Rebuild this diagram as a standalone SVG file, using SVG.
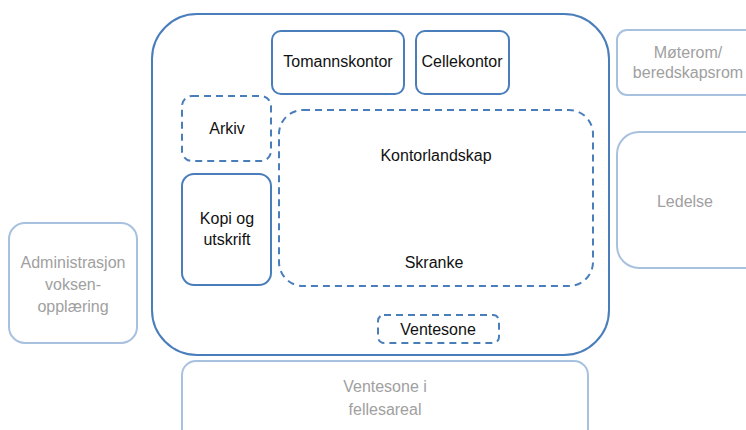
<svg xmlns="http://www.w3.org/2000/svg" width="746" height="430" viewBox="0 0 746 430">
<style>
.main{fill:#fff;stroke:#4a7ebb;stroke-width:2}
.dash{fill:none;stroke:#4a7ebb;stroke-width:2;stroke-dasharray:7,5}
.ext{fill:#fff;stroke:#a8c1df;stroke-width:2}
.t{font-family:"Liberation Sans",Arial,sans-serif;font-size:16px;fill:#111;text-anchor:middle}
.g{font-family:"Liberation Sans",Arial,sans-serif;font-size:16px;fill:#a0a0a0;text-anchor:middle}
</style>
<rect width="746" height="430" fill="#fff"/>
<g id="ventesone-fellesareal"><rect class="ext" x="182" y="361" width="406" height="90" rx="14"/><text class="g" x="385" y="392">Ventesone i</text><text class="g" x="385" y="415">fellesareal</text></g>
<g id="admin"><rect class="ext" x="9" y="223" width="128" height="120" rx="16"/><text class="g" x="73" y="268">Administrasjon</text><text class="g" x="73" y="290">voksen-</text><text class="g" x="73" y="312">opplæring</text></g>
<g id="moterom"><rect class="ext" x="617" y="30" width="150" height="65" rx="10"/><text class="g" x="688" y="58">Møterom/</text><text class="g" x="688" y="78">beredskapsrom</text></g>
<g id="ledelse"><rect class="ext" x="617" y="132" width="150" height="136" rx="22"/><text class="g" x="685" y="207">Ledelse</text></g>
<g id="kontor"><rect class="main" x="152" y="14" width="457" height="341" rx="45"/></g>
<g id="tomannskontor"><rect class="main" x="272" y="31" width="132" height="63" rx="9"/><text class="t" x="338" y="67">Tomannskontor</text></g>
<g id="cellekontor"><rect class="main" x="416" y="31" width="93" height="63" rx="9"/><text class="t" x="462" y="67">Cellekontor</text></g>
<g id="arkiv"><rect class="dash" x="182" y="96" width="89" height="65" rx="10"/><text class="t" x="227" y="134">Arkiv</text></g>
<g id="kopi"><rect class="main" x="182" y="174" width="89" height="111" rx="12"/><text class="t" x="227" y="224">Kopi og</text><text class="t" x="227" y="245">utskrift</text></g>
<g id="kontorlandskap"><rect class="dash" x="279" y="110" width="314" height="176" rx="24"/><text class="t" x="436" y="161">Kontorlandskap</text><text class="t" x="434" y="268">Skranke</text></g>
<g id="ventesone"><rect class="dash" x="378" y="315" width="121" height="28" rx="6"/><text class="t" x="438" y="335">Ventesone</text></g>
<g id="connectors"></g>
</svg>
